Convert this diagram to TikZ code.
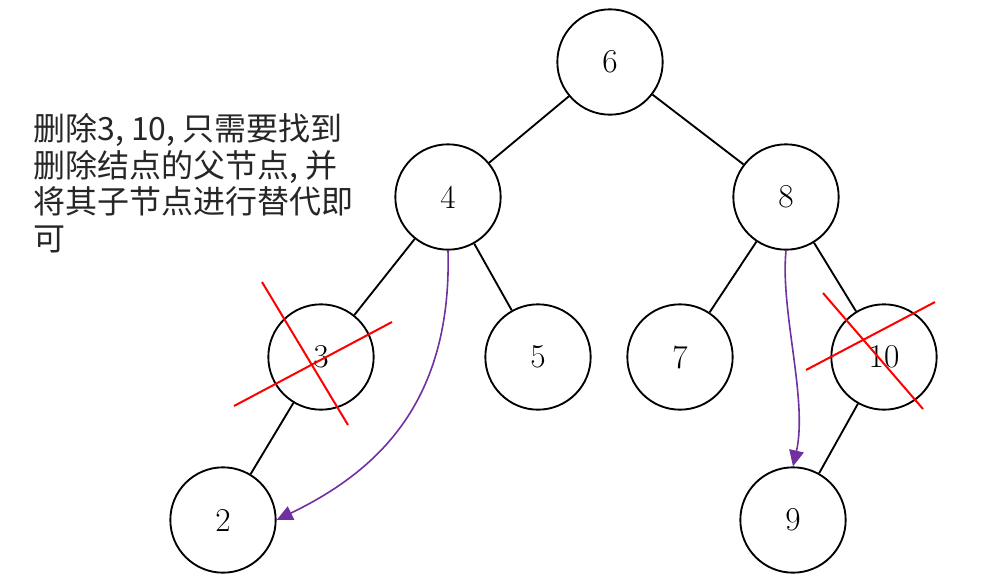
\documentclass[tikz,border=0pt]{standalone}
\usepackage{fontspec}
\newfontfamily\cjk{Noto Sans CJK SC}
\usetikzlibrary{arrows.meta}
\definecolor{mvpurple}{HTML}{7030A0}

\begin{document}
\begin{tikzpicture}[x=0.75pt,y=-0.75pt,>=Triangle,
   tn/.style={draw,circle,line width=1.4pt,minimum size=79pt,inner sep=0pt,
     font=\fontsize{25}{25}\selectfont},
   cut/.style={draw=red,line width=1.5pt},
   mv/.style={draw=mvpurple,line width=1.2pt,->,
     arrows={-Triangle[length=12pt,width=11pt,fill=mvpurple]}}]
  \useasboundingbox (0,0) rectangle (996,575);
  \node[tn] (n6) at (610,62) {6};
  \node[tn] (n4) at (448,197) {4};
  \node[tn] (n8) at (786,197) {8};
  \node[tn] (n3) at (321,357) {3};
  \node[tn] (n5) at (538,357) {5};
  \node[tn] (n7) at (680,357) {7};
  \node[tn] (n10) at (884,357) {10};
  \node[tn] (n2) at (223,520) {2};
  \node[tn] (n9) at (793,520) {9};
  \draw[line width=1.4pt] (n6) -- (n4);
  \draw[line width=1.4pt] (n6) -- (n8);
  \draw[line width=1.4pt] (n4) -- (n3);
  \draw[line width=1.4pt] (n4) -- (n5);
  \draw[line width=1.4pt] (n8) -- (n7);
  \draw[line width=1.4pt] (n8) -- (n10);
  \draw[line width=1.4pt] (n3) -- (n2);
  \draw[line width=1.4pt] (n10) -- (n9);
  % moved children
  \draw[mv] (n4.south) .. controls (452,400) and (380,470) .. (n2.east);
  \draw[mv] (n8.south) .. controls (780,310) and (808,400) .. (n9.north);
  % crossed out nodes
  \coordinate (c3a) at (262,282);
  \coordinate (c3b) at (348,425);
  \coordinate (c3c) at (234,406);
  \coordinate (c3d) at (392,322);
  \draw[cut] (c3a) -- (c3b);
  \draw[cut] (c3c) -- (c3d);
  \coordinate (c10a) at (823,293);
  \coordinate (c10b) at (923,409);
  \coordinate (c10c) at (806,370);
  \coordinate (c10d) at (935,302);
  \draw[cut] (c10a) -- (c10b);
  \draw[cut] (c10c) -- (c10d);
  \node[anchor=north west,align=left,inner sep=0pt,text=black!85,
    font=\cjk\fontsize{24}{27.5}\selectfont] (note) at (33,113)
    {删除3, 10, 只需要找到\\删除结点的父节点, 并\\将其子节点进行替代即\\可};
\end{tikzpicture}
\end{document}
